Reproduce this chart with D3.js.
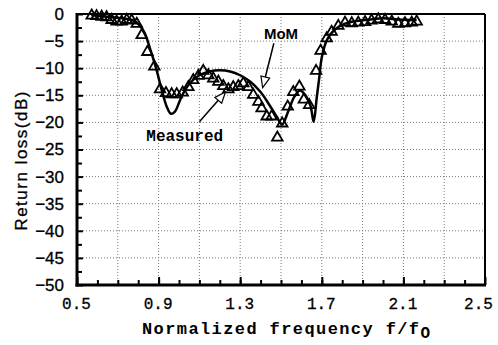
<!DOCTYPE html>
<html>
<head>
<meta charset="utf-8">
<script src="https://cdn.jsdelivr.net/npm/d3@7"></script>
<style>
  body { margin: 0; background: #fff; }
</style>
</head>
<body>
<svg id="chart" width="498" height="345"></svg>
<script>
// measured return loss (triangles)
const measFreq = [0.572, 0.596, 0.621, 0.645, 0.670, 0.694, 0.719, 0.744, 0.768, 0.793,
  0.817, 0.845, 0.879, 0.907, 0.936, 0.964, 0.989, 1.018, 1.046, 1.070,
  1.095, 1.119, 1.144, 1.168, 1.193, 1.217, 1.242, 1.266, 1.291, 1.315,
  1.340, 1.364, 1.389, 1.405, 1.430, 1.454, 1.482, 1.506, 1.533, 1.560,
  1.590, 1.612, 1.638, 1.672, 1.694, 1.724, 1.748, 1.781, 1.814, 1.847,
  1.879, 1.912, 1.944, 1.977, 2.010, 2.043, 2.075, 2.108, 2.141, 2.165];
const measDb = [-0.3, -0.4, -0.5, -0.6, -1.1, -1.4, -1.4, -1.1, -1.2, -1.8,
  -3.9, -7.0, -9.7, -13.9, -14.6, -14.8, -14.8, -14.5, -13.5, -12.2,
  -11.4, -10.5, -11.3, -11.9, -12.5, -13.3, -13.9, -13.5, -13.3, -12.8,
  -13.5, -14.9, -16.2, -17.4, -18.9, -18.9, -22.8, -20.2, -17.1, -14.4,
  -13.4, -15.8, -16.8, -10.5, -6.8, -4.5, -3.3, -2.2, -1.6, -1.7,
  -1.6, -1.5, -1.2, -1.0, -1.1, -1.4, -1.8, -1.7, -1.6, -1.4];

// MoM simulation (solid line)
const momFreq = [0.57, 0.65, 0.72, 0.77, 0.80, 0.83, 0.86, 0.89, 0.915, 0.94,
  0.96, 0.98, 1.005, 1.03, 1.06, 1.10, 1.15, 1.20, 1.25, 1.30,
  1.35, 1.40, 1.44, 1.48, 1.505, 1.535, 1.565, 1.593, 1.62, 1.645,
  1.66, 1.675, 1.688, 1.70, 1.725, 1.76, 1.80, 1.855, 1.94, 2.0,
  2.08, 2.165];
const momDb = [-0.2, -0.5, -0.8, -1.1, -1.8, -3.4, -6.6, -10.3, -14.0, -17.1,
  -18.4, -18.0, -15.9, -14.0, -12.5, -11.3, -10.6, -10.4, -10.6, -11.3,
  -12.5, -14.4, -16.6, -19.0, -20.4, -18.0, -15.3, -14.1, -15.0, -17.0,
  -19.9, -15.5, -11.6, -8.0, -4.8, -3.0, -2.0, -1.4, -1.0, -0.8,
  -1.0, -1.1];

const xLabels = [0.5, 0.9, 1.3, 1.7, 2.1, 2.5];
const yLabels = [0, -5, -10, -15, -20, -25, -30, -35, -40, -45, -50];

const margin = {top: 14, right: 13, bottom: 60, left: 77};
const width = 498, height = 345;

const svg = d3.select("#chart");

const x = d3.scaleLinear().domain([0.5, 2.5]).range([margin.left, width - margin.right]);
const y = d3.scaleLinear().domain([-50, 0]).range([height - margin.bottom, margin.top]);

// grid
const grid = svg.append("g")
    .attr("stroke", "#777")
    .attr("stroke-width", 1)
    .attr("stroke-dasharray", "1,2");
grid.selectAll("line.v")
    .data(d3.range(0.7, 2.45, 0.2))
  .enter().append("line")
    .attr("x1", d => x(d)).attr("x2", d => x(d))
    .attr("y1", y(0)).attr("y2", y(-50));
grid.selectAll("line.h")
    .data(d3.range(-5, -49, -5))
  .enter().append("line")
    .attr("x1", x(0.5)).attr("x2", x(2.5))
    .attr("y1", d => y(d)).attr("y2", d => y(d));

// axes
const fontMono = "'Liberation Mono', 'DejaVu Sans Mono', monospace";
const fontSans = "'Liberation Sans', Arial, sans-serif";

const xAxis = svg.append("g")
    .attr("transform", `translate(0,${y(-50)})`)
    .call(d3.axisBottom(x).tickValues(xLabels).tickSize(-8).tickPadding(13)
      .tickFormat(d3.format(".1f")));
xAxis.select(".domain").remove();
xAxis.selectAll("line").attr("stroke", "#000").attr("stroke-width", 2);
xAxis.selectAll("text")
    .style("font", `16px ${fontMono}`).attr("fill", "#000")
    .attr("stroke", "#000").attr("stroke-width", 0.3)
    .attr("dx", d => d === 2.5 ? -7 : -1);

const xMinor = svg.append("g")
    .attr("transform", `translate(0,${y(-50)})`)
    .call(d3.axisBottom(x).tickValues(d3.range(0.6, 2.45, 0.1)).tickSize(-5).tickFormat(""));
xMinor.select(".domain").remove();
xMinor.selectAll("line").attr("stroke", "#000").attr("stroke-width", 2);

const yAxis = svg.append("g")
    .attr("transform", `translate(${x(0.5)},0)`)
    .call(d3.axisLeft(y).tickValues(yLabels).tickSize(-6).tickPadding(13)
      .tickFormat(d => d === 0 ? "0" : "\u2212" + Math.abs(d)));
yAxis.select(".domain").remove();
yAxis.selectAll("line").attr("stroke", "#000").attr("stroke-width", 2);
yAxis.selectAll("text")
    .style("font", `17px ${fontSans}`).attr("fill", "#000")
    .attr("stroke", "#000").attr("stroke-width", 0.3);

const yMinor = svg.append("g")
    .attr("transform", `translate(${x(0.5)},0)`)
    .call(d3.axisLeft(y).tickValues(d3.range(-47.5, 0, 5)).tickSize(-5).tickFormat(""));
yMinor.select(".domain").remove();
yMinor.selectAll("line").attr("stroke", "#000").attr("stroke-width", 2);

// frame
svg.append("line").attr("x1", x(0.5)).attr("x2", x(2.5)).attr("y1", y(0)).attr("y2", y(0))
    .attr("stroke", "#000").attr("stroke-width", 2);
svg.append("line").attr("x1", x(2.5)).attr("x2", x(2.5)).attr("y1", y(0)).attr("y2", y(-50))
    .attr("stroke", "#000").attr("stroke-width", 2);
svg.append("line").attr("x1", x(0.5)).attr("x2", x(0.5)).attr("y1", y(0) - 1).attr("y2", y(-50) + 1.5)
    .attr("stroke", "#000").attr("stroke-width", 3);
svg.append("line").attr("x1", x(0.5) - 1.5).attr("x2", x(2.5) + 1).attr("y1", y(-50)).attr("y2", y(-50))
    .attr("stroke", "#000").attr("stroke-width", 3);

// MoM curve
const momData = momFreq.map((f, i) => ({f, db: momDb[i]}));
svg.append("path")
    .datum(momData)
    .attr("fill", "none")
    .attr("stroke", "#000")
    .attr("stroke-width", 2.5)
    .attr("d", d3.line().x(d => x(d.f)).y(d => y(d.db)).curve(d3.curveCatmullRom.alpha(0.5)));

// measured triangles
const measData = measFreq.map((f, i) => ({f, db: measDb[i]}));
svg.append("g")
    .selectAll("path")
    .data(measData)
  .enter().append("path")
    .attr("transform", d => `translate(${x(d.f)},${y(d.db)})`)
    .attr("d", d3.symbol(d3.symbolTriangle, 48))
    .attr("fill", "none")
    .attr("stroke", "#000")
    .attr("stroke-width", 1.8);

// annotations
function arrow(f0, d0, f1, d1) {
  const x0 = x(f0), y0 = y(d0), x1 = x(f1), y1 = y(d1);
  const ang = Math.atan2(y1 - y0, x1 - x0);
  const len = 11, hw = 4.5;
  const bx = x1 - len * Math.cos(ang), by = y1 - len * Math.sin(ang);
  svg.append("line")
      .attr("x1", x0).attr("y1", y0).attr("x2", bx).attr("y2", by)
      .attr("stroke", "#000").attr("stroke-width", 1.5);
  const px = -Math.sin(ang) * hw, py = Math.cos(ang) * hw;
  svg.append("path")
      .attr("d", `M${x1},${y1}L${bx + px},${by + py}L${bx - px},${by - py}Z`)
      .attr("fill", "#fff").attr("stroke", "#000").attr("stroke-width", 1.2);
}
arrow(1.465, -5.4, 1.41, -13.6);
arrow(1.10, -19.9, 1.228, -14.4);

svg.append("text")
    .attr("x", x(1.5)).attr("y", y(-4.6))
    .attr("text-anchor", "middle")
    .style("font", `bold 15px ${fontSans}`)
    .text("MoM");
svg.append("text")
    .attr("x", x(1.028)).attr("y", y(-23.4))
    .attr("text-anchor", "middle")
    .style("font", `bold 16px ${fontMono}`)
    .text("Measured");

// axis titles
svg.append("text")
    .attr("x", 142).attr("y", 334)
    .style("font", `bold 17px ${fontMono}`)
    .attr("letter-spacing", 1.4)
    .text("Normalized frequency f/f")
  .append("tspan")
    .attr("dy", 4)
    .style("font-size", "16px")
    .text("O");

svg.append("text")
    .attr("transform", `translate(27,${y(-27)}) rotate(-90)`)
    .attr("text-anchor", "middle")
    .style("font", `17px ${fontSans}`)
    .attr("stroke", "#000").attr("stroke-width", 0.3)
    .attr("letter-spacing", 1.5)
    .text("Return loss(dB)");
</script>
</body>
</html>
